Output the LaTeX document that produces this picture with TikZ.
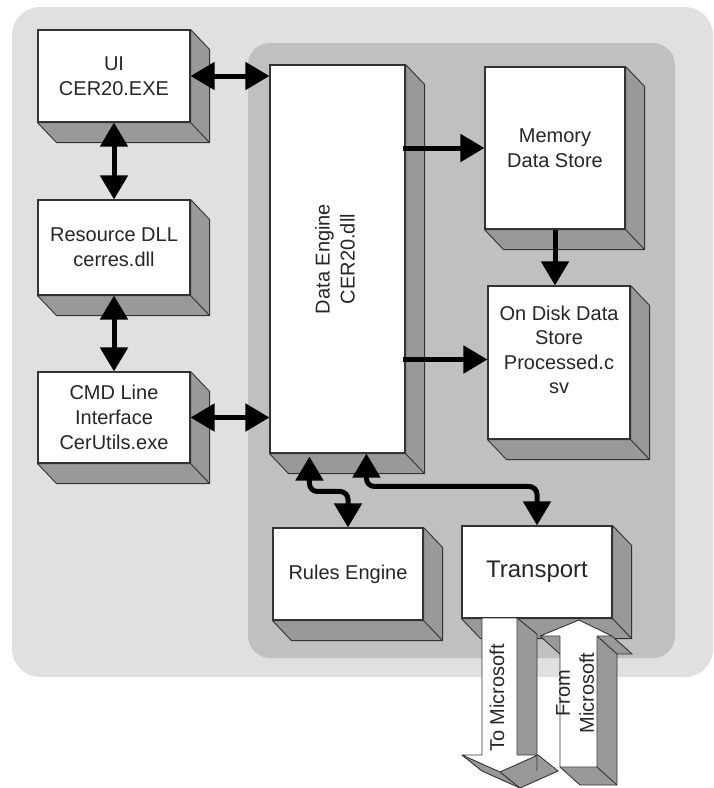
\documentclass[tikz,border=0pt]{standalone}
\usepackage{fontspec}
\setmainfont{Liberation Sans}
\usetikzlibrary{arrows.meta,calc}
\definecolor{outerbg}{HTML}{E0E0E0}
\definecolor{innerbg}{HTML}{C0C0C0}
\definecolor{extfill}{HTML}{999999}
\definecolor{boxline}{HTML}{333333}
\definecolor{txt}{HTML}{262626}
\newcommand{\extrude}[1]{%
  \fill[ext] (#1.north east) -- ($(#1.north east)+(19,20)$) -- ($(#1.south east)+(19,20)$) -- ($(#1.south west)+(19,20)$) -- (#1.south west) -- (#1.south east) -- cycle;
  \draw[boxline, line width=0.9pt] (#1.south east) -- ($(#1.south east)+(19,20)$);}
\begin{document}
\begin{tikzpicture}[x=1pt,y=-1pt,
  box/.style={draw=boxline, fill=white, line width=1.1pt, inner sep=0pt, align=center, text=txt, font=\fontsize{20}{25}\selectfont},
  lbl/.style={inner sep=0pt, align=center, text=txt, font=\fontsize{20}{25}\selectfont},
  ext/.style={fill=extfill, draw=boxline, line width=0.9pt, line join=round},
  edge3d/.style={draw=boxline, line width=0.9pt},
  conn/.style={line width=5pt, -{Triangle[length=24pt,width=27pt]}},
  dconn/.style={line width=5pt, {Triangle[length=24pt,width=27pt]}-{Triangle[length=24pt,width=27pt]}},
]
\useasboundingbox (0,0) rectangle (714,788);
\fill[outerbg, rounded corners=28pt] (12,7) rectangle (713,677);
\fill[innerbg, rounded corners=22pt] (248,43) rectangle (675,658);

% boxes
\node[box, minimum width=152pt, minimum height=92pt] (ui) at (114,76) {UI\\CER20.EXE};
\node[box, minimum width=152pt, minimum height=95pt] (res) at (114,247.5) {Resource DLL\\cerres.dll};
\node[box, minimum width=152pt, minimum height=91pt] (cmd) at (114,417.5) {CMD Line\\Interface\\CerUtils.exe};
\node[box, minimum width=135pt, minimum height=388pt] (de) at (337.5,259) {};
\node[box, minimum width=140pt, minimum height=162pt] (mem) at (555,148) {Memory\\Data Store};
\node[box, minimum width=142pt, minimum height=153pt] (disk) at (559,362.5) {};
\node[box, minimum width=150pt, minimum height=92pt] (rules) at (348,574) {Rules Engine};
\node[box, minimum width=150pt, minimum height=92pt, font=\fontsize{24}{28}\selectfont] (trans) at (537,572) {Transport};

\extrude{ui}
\extrude{res}
\extrude{cmd}
\extrude{de}
\extrude{mem}
\extrude{disk}
\extrude{rules}
\extrude{trans}

\node[lbl, rotate=90] (delabel) at (335,259) {Data Engine\\CER20.dll};
\node[lbl, font=\fontsize{20}{24.5}\selectfont] (disklabel) at (559,350) {On Disk Data\\Store\\Processed.c\\sv};

% To Microsoft block arrow
\foreach \s in {0,0.5,...,20}{
  \fill[extfill, shift={(\s,0.8*\s)}] (482,618) -- (517,618) -- (517,755) -- (538,755) -- (500,772) -- (462,755) -- (482,755) -- cycle;
}
\draw[edge3d] (517,618) -- (537,634) -- (537,771);
\draw[edge3d] (538,755) -- (558,771) -- (520,788) -- (482,771) -- (462,755);
\draw[edge3d] (500,772) -- (520,788);
\fill[white, draw=boxline, line width=0.9pt, line join=round] (482,618) -- (517,618) -- (517,755) -- (538,755) -- (500,772) -- (462,755) -- (482,755) -- cycle;
\node[lbl, rotate=90] (tolabel) at (497,698) {To Microsoft};

% From Microsoft block arrow
\foreach \s in {0,0.5,...,20}{
  \fill[extfill, shift={(\s,0.9*\s)}] (560,767) -- (560,636) -- (540,636) -- (579,620) -- (612,636) -- (597,636) -- (597,767) -- cycle;
}
\draw[edge3d] (560,767) -- (580,785) -- (617,785) -- (617,654) -- (632,654) -- (612,636);
\draw[edge3d] (597,767) -- (617,785);
\draw[edge3d] (597,636) -- (617,654);
\draw[edge3d] (540,636) -- (560,654);
\fill[white, draw=boxline, line width=0.9pt, line join=round] (560,767) -- (560,636) -- (540,636) -- (579,620) -- (612,636) -- (597,636) -- (597,767) -- cycle;
\node[lbl, rotate=90, font=\fontsize{20}{24}\selectfont] (fromlabel) at (575,693) {From\\Microsoft};

% connectors
\draw[dconn] (ui.east) -- (ui.east -| de.west);
\draw[dconn] (ui.south) -- (res.north);
\draw[dconn] (res.south) -- (cmd.north);
\draw[dconn] (cmd.east) -- (cmd.east -| de.west);
\draw[conn] ($(mem.west -| de.east)+(-3,0)$) -- (mem.west);
\draw[conn] (mem.south) -- (mem.south |- disk.north);
\draw[conn] ($(disk.west -| de.east)+(-3,-3)$) -- ($(disk.west)+(0,-3)$);
\draw[dconn, rounded corners=8pt] ($(de.south west)+(40,3)$) |- ($(rules.north)+(0,-36)$) -- (rules.north);
\draw[dconn, rounded corners=8pt] ($(de.south west)+(97,0)$) |- ($(trans.north)+(0,-39)$) -- (trans.north);
\end{tikzpicture}
\end{document}
